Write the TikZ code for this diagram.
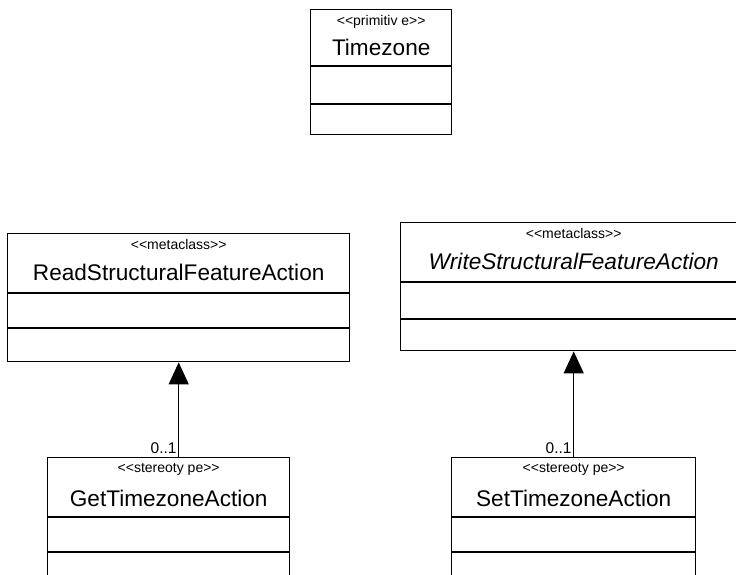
\documentclass[tikz,border=0pt]{standalone}
\usepackage{fontspec}
\setmainfont{Liberation Sans}
\usetikzlibrary{arrows.meta,calc}
\newcommand{\stp}[1]{{<}{<}#1{>}{>}}
\tikzset{
  classbox/.style={draw=black, line width=1.4pt, fill=white, anchor=north west, inner sep=0pt, minimum width=#1},
  stereo/.style={font=\fontsize{14}{16}\selectfont, anchor=base, inner sep=0pt},
  cname/.style={font=\fontsize{22.6}{26}\selectfont, anchor=base, inner sep=0pt},
  mult/.style={font=\fontsize{15.5}{18}\selectfont, anchor=base east, inner sep=0pt},
  sep/.style={draw=black, line width=1.4pt},
  inh/.style={draw=black, line width=1.4pt, -{Triangle[length=22pt,width=20pt]}}
}
\begin{document}
\begin{tikzpicture}[x=1pt,y=-1pt]
\useasboundingbox (0,0) rectangle (736,574);
\clip (0,0) rectangle (736,574);
\fill[white] (0,0) rectangle (736,574);

% Timezone
\node[classbox=141pt, minimum height=125pt] (tz) at (310,9) {};
\draw[sep] (tz.west |- 0,66) -- (tz.east |- 0,66);
\draw[sep] (tz.west |- 0,104) -- (tz.east |- 0,104);
\node[stereo] (tzs) at ($(tz.north)+(0,16)$) {\stp{primitiv e}};
\node[cname] (tzn) at ($(tz.north)+(0,46)$) {Timezone};

% ReadStructuralFeatureAction
\node[classbox=342pt, minimum height=128pt] (read) at (7,233) {};
\draw[sep] (read.west |- 0,293) -- (read.east |- 0,293);
\draw[sep] (read.west |- 0,328) -- (read.east |- 0,328);
\node[stereo] (reads) at ($(read.north)+(0,16)$) {\stp{metaclass}};
\node[cname] (readn) at ($(read.north)+(0,47)$) {ReadStructuralFeatureAction};

% WriteStructuralFeatureAction
\node[classbox=346pt, minimum height=128pt] (write) at (400,222) {};
\draw[sep] (write.west |- 0,282) -- (write.east |- 0,282);
\draw[sep] (write.west |- 0,319) -- (write.east |- 0,319);
\node[stereo] (writes) at ($(write.north)+(0,16)$) {\stp{metaclass}};
\node[cname] (writen) at ($(write.north)+(0,47)$) {\itshape WriteStructuralFeatureAction};

% GetTimezoneAction
\node[classbox=242pt, minimum height=128pt] (get) at (47,457) {};
\draw[sep] (get.west |- 0,517) -- (get.east |- 0,517);
\draw[sep] (get.west |- 0,552) -- (get.east |- 0,552);
\node[stereo] (gets) at ($(get.north)+(0,15)$) {\stp{stereoty pe}};
\node[cname] (getn) at ($(get.north)+(0,49)$) {GetTimezoneAction};

% SetTimezoneAction
\node[classbox=244pt, minimum height=128pt] (set) at (451,457) {};
\draw[sep] (set.west |- 0,517) -- (set.east |- 0,517);
\draw[sep] (set.west |- 0,552) -- (set.east |- 0,552);
\node[stereo] (sets) at ($(set.north)+(0,15)$) {\stp{stereoty pe}};
\node[cname] (setn) at ($(set.north)+(0,49)$) {SetTimezoneAction};

% generalizations
\coordinate (gtop) at (read.south |- get.north);
\draw[inh] (gtop) -- (read.south);
\node[mult] (gm) at ($(gtop)+(-2,-4)$) {0..1};
\draw[inh] (set.north) -- (write.south);
\node[mult] (sm) at ($(set.north)+(-2,-4)$) {0..1};
\end{tikzpicture}
\end{document}
